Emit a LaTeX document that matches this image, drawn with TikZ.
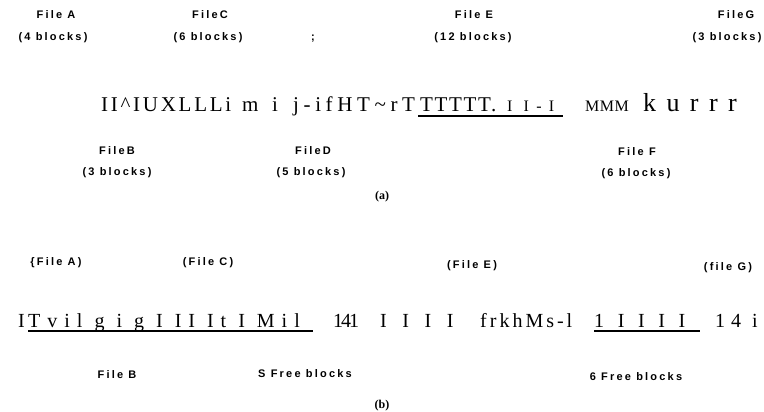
\documentclass[tikz,border=0pt]{standalone}
\usepackage{fontspec}
\setmainfont{Liberation Serif}
\newfontfamily\labfont[LetterSpace=20]{Liberation Sans Bold}
\newcommand{\ls}[1]{\addfontfeature{LetterSpace=#1}}
\tikzset{
  lab/.style={font=\labfont\fontsize{11}{13}\selectfont, inner sep=0pt, anchor=center},
  seg/.style={inner sep=0pt, anchor=base west},
  subcap/.style={font=\bfseries\fontsize{12}{14}\selectfont, inner sep=0pt},
  uline/.style={line width=1.3pt}
}
\begin{document}
\begin{tikzpicture}[x=1pt,y=-1pt]
\useasboundingbox (0,0) rectangle (764,412);
% ---------- (a) ----------
\node[lab] (fa)  at (56,15) {File A};
\node[lab] (fab) at (53,38) {(4 blocks)};
\node[lab] (fc)  at (210,15) {FileC};
\node[lab] (fcb) at (208,38) {(6 blocks)};
\node[lab] (semi) at (313,39) {;};
\node[lab] (fe)  at (474,15) {File E};
\node[lab] (feb) at (473,38) {(12 blocks)};
\node[lab] (fg)  at (736,15) {FileG};
\node[lab] (fgb) at (727,38) {(3 blocks)};

\node[seg,font=\fontsize{21}{24}\selectfont\ls{13}] (a1) at (101,112) {II\textasciicircum IUXLLLi};
\node[seg,font=\fontsize{21}{24}\selectfont\ls{40}] (a2) at (242,112) {m i};
\node[seg,font=\fontsize{21}{24}\selectfont\ls{22}] (a3) at (293,112) {j-ifHT\textasciitilde rT};
\node[seg,font=\fontsize{21}{24}\selectfont\ls{8}] (a4) at (420,112) {TTTTT.};
\node[seg,font=\fontsize{16}{18}\selectfont\ls{45}] (a5) at (507,112) {I I-I};
\node[seg,font=\fontsize{16}{18}\selectfont\ls{3}] (a6) at (585,112) {MMM};
\node[seg,font=\fontsize{26}{30}\selectfont\ls{40}] (a7) at (643,112) {kurrr};
\coordinate (ua1) at (418,116);
\coordinate (ua2) at (563,116);
\draw[uline] (ua1) -- (ua2);

\node[lab] (fb)  at (117,151) {FileB};
\node[lab] (fbb) at (117,173) {(3 blocks)};
\node[lab] (fd)  at (313,151) {FileD};
\node[lab] (fdb) at (311,173) {(5 blocks)};
\node[lab] (ff)  at (637,152) {File F};
\node[lab] (ffb) at (636,174) {(6 blocks)};
\node[subcap] (capa) at (382,197) {(a)};

% ---------- (b) ----------
\node[lab] (ga) at (56,263) {\{File A)};
\node[lab] (gc) at (208,263) {(File C)};
\node[lab] (ge) at (472,266) {(File E)};
\node[lab] (gg) at (728,268) {(file G)};

\node[seg,font=\fontsize{20}{24}\selectfont] (b1) at (18,327) {I};
\node[seg,font=\fontsize{20}{24}\selectfont\ls{35}] (b2) at (28,327) {Tvil g i g I II It I Mil};
\node[seg,font=\fontsize{20}{24}\selectfont\ls{-10}] (b3) at (333,327) {141};
\node[seg,font=\fontsize{20}{24}\selectfont\ls{53}] (b4) at (380,327) {I I I I};
\node[seg,font=\fontsize{20}{24}\selectfont\ls{15}] (b5) at (480,327) {frkhMs-l};
\node[seg,font=\fontsize{20}{24}\selectfont\ls{43}] (b6) at (594,327) {1 I I I I};
\node[seg,font=\fontsize{20}{24}\selectfont\ls{30}] (b7) at (715,327) {14 i};
\coordinate (ub1) at (28,331);
\coordinate (ub2) at (313,331);
\coordinate (ub3) at (594,331);
\coordinate (ub4) at (700,331);
\draw[uline] (ub1) -- (ub2);
\draw[uline] (ub3) -- (ub4);

\node[lab] (gb)  at (117,375) {File B};
\node[lab] (g5)  at (305,374) {S Free blocks};
\node[lab] (g6)  at (636,377) {6 Free blocks};
\node[subcap] (capb) at (382,406) {(b)};
\end{tikzpicture}
\end{document}
